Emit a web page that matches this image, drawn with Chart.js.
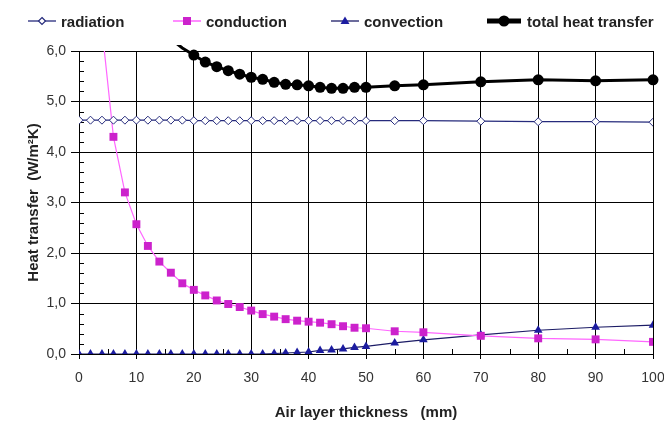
<!DOCTYPE html>
<html>
<head>
<meta charset="utf-8">
<script src="https://cdn.jsdelivr.net/npm/chart.js@4.4.1/dist/chart.umd.min.js"></script>
<style>
html,body{margin:0;padding:0;background:#fff;}
#wrap{position:relative;width:664px;height:424px;overflow:hidden;}
#c{position:absolute;left:0;top:0;}
.lg{position:absolute;top:11px;height:20px;display:flex;align-items:center;font:bold 15px "Liberation Sans",Arial,sans-serif;color:#222;white-space:nowrap;}
.lg svg{margin-right:5px;}
</style>
</head>
<body>
<div id="wrap">
<canvas id="c" width="664" height="424"></canvas>
<div class="lg" style="left:28px"><svg width="28" height="14"><line x1="0" y1="7" x2="28" y2="7" stroke="#262b7c" stroke-width="1.3"/><polygon points="14,3.5 17.5,7 14,10.5 10.5,7" fill="#fff" stroke="#262b7c" stroke-width="1.2"/></svg><span>radiation</span></div>
<div class="lg" style="left:173px"><svg width="28" height="14"><line x1="0" y1="7" x2="28" y2="7" stroke="#ff66ff" stroke-width="1.5"/><rect x="10" y="3" width="8" height="8" fill="#cc22cc"/></svg><span>conduction</span></div>
<div class="lg" style="left:331px"><svg width="28" height="14"><line x1="0" y1="7" x2="28" y2="7" stroke="#1c1c66" stroke-width="1.3"/><polygon points="14,2.5 18.5,10 9.5,10" fill="#1c1ca0"/></svg><span>convection</span></div>
<div class="lg" style="left:487px"><svg width="34" height="14" style="margin-right:6px"><line x1="0" y1="7" x2="34" y2="7" stroke="#000" stroke-width="5"/><circle cx="17" cy="7" r="5.5" fill="#000"/></svg><span>total heat transfer</span></div>
</div>
<script>
// ---- data ----
const thickness = [0,2,4,6,8,10,12,14,16,18,20,22,24,26,28,30,32,34,36,38,40,42,44,46,48,50,55,60,70,80,90,100];
const radiation = [4.63,4.63,4.63,4.63,4.63,4.63,4.63,4.63,4.63,4.63,4.62,4.62,4.62,4.62,4.62,4.62,4.62,4.62,4.62,4.62,4.62,4.62,4.62,4.62,4.62,4.62,4.62,4.62,4.61,4.60,4.60,4.59];
const convection = [0,0,0,0,0,0,0,0,0,0,0,0,0,0,0,0,0,0.01,0.02,0.03,0.04,0.07,0.08,0.10,0.13,0.15,0.22,0.28,0.38,0.47,0.53,0.57];
const conductionX = [4,6,8,10,12,14,16,18,20,22,24,26,28,30,32,34,36,38,40,42,44,46,48,50,55,60,70,80,90,100];
const conduction = [6.45,4.30,3.20,2.57,2.14,1.83,1.61,1.40,1.27,1.16,1.06,0.99,0.93,0.86,0.79,0.74,0.69,0.66,0.64,0.62,0.59,0.55,0.52,0.51,0.45,0.43,0.36,0.31,0.29,0.24];
const totalX = [16,18,20,22,24,26,28,30,32,34,36,38,40,42,44,46,48,50,55,60,70,80,90,100];
const total = [6.24,6.06,5.92,5.78,5.69,5.61,5.54,5.48,5.44,5.38,5.34,5.33,5.31,5.28,5.26,5.26,5.28,5.28,5.31,5.33,5.39,5.43,5.41,5.43];
const xTicks = [0,10,20,30,40,50,60,70,80,90,100];
const yTicks = [0,1,2,3,4,5,6];

const FONT = '"Liberation Sans", Arial, sans-serif';
const pts = (xs, ys) => xs.map((x, i) => ({x, y: ys[i]}));

const minorTicks = {
  id: 'minorTicks',
  beforeDatasetsDraw(chart) {
    const {ctx, chartArea: a, scales: {x, y}} = chart;
    ctx.save();
    ctx.strokeStyle = '#000';
    ctx.lineWidth = 1;
    ctx.beginPath();
    for (let i = 1; i < 30; i++) {
      if (i % 5 === 0) continue;
      const py = Math.round(y.getPixelForValue(i / 5)) + 0.5;
      ctx.moveTo(a.left, py); ctx.lineTo(a.left + 5, py);
    }
    for (let v = 5; v < 100; v += 10) {
      const px = Math.round(x.getPixelForValue(v)) + 0.5;
      ctx.moveTo(px, a.bottom); ctx.lineTo(px, a.bottom - 5);
    }
    ctx.stroke();
    ctx.restore();
  }
};

new Chart(document.getElementById('c'), {
  type: 'line',
  data: {
    datasets: [
      {label: 'radiation', data: pts(thickness, radiation), borderColor: '#262b7c', borderWidth: 1.3,
       pointStyle: 'rectRot', pointRadius: 4, pointBackgroundColor: '#fff', pointBorderColor: '#262b7c', pointBorderWidth: 1},
      {label: 'conduction', data: pts(conductionX, conduction), borderColor: '#ff66ff', borderWidth: 1.2,
       pointStyle: 'rect', pointRadius: 5.6, pointBackgroundColor: '#cc22cc', pointBorderColor: '#cc22cc', pointBorderWidth: 0},
      {label: 'convection', data: pts(thickness, convection), borderColor: '#1c1c66', borderWidth: 1.2,
       pointStyle: 'triangle', pointRadius: 5, pointBackgroundColor: '#1c1ca0', pointBorderColor: '#1c1ca0', pointBorderWidth: 0},
      {label: 'total heat transfer', data: pts(totalX, total), borderColor: '#000', borderWidth: 3,
       pointStyle: 'circle', pointRadius: c => (c.raw && c.raw.y > 6 ? 0 : 5.5), pointBackgroundColor: '#000', pointBorderColor: '#000', pointBorderWidth: 0,
       clip: {left: 0, top: 6, right: 6, bottom: 0}}
    ]
  },
  options: {
    responsive: false,
    animation: false,
    devicePixelRatio: 1,
    layout: {padding: {top: 51, right: 11, left: 0, bottom: 0}},
    elements: {line: {tension: 0}},
    plugins: {legend: {display: false}, tooltip: {enabled: false}},
    scales: {
      x: {
        type: 'linear', min: 0, max: 100,
        afterBuildTicks: s => { s.ticks = xTicks.map(v => ({value: v})); },
        ticks: {color: '#333', font: {family: FONT, size: 14}, padding: 11, maxRotation: 0, autoSkip: false},
        grid: {color: '#000', lineWidth: 1, tickLength: 5},
        border: {color: '#000', width: 1},
        title: {display: true, text: 'Air layer thickness   (mm)', color: '#222',
                font: {family: FONT, size: 15, weight: 'bold'}, padding: {top: 0, bottom: 2}},
        afterFit: s => { s.height = 70; s.paddingLeft = 0; s.paddingRight = 0; }
      },
      y: {
        min: 0, max: 6,
        afterBuildTicks: s => { s.ticks = yTicks.map(v => ({value: v})); },
        ticks: {color: '#333', font: {family: FONT, size: 14}, padding: 5,
                callback: v => v.toFixed(1).replace('.', ',')},
        grid: {color: '#000', lineWidth: 1, tickLength: 8},
        border: {color: '#000', width: 1},
        title: {display: true, text: 'Heat transfer  (W/m²K)', color: '#222',
                font: {family: FONT, size: 15, weight: 'bold'}, padding: {top: 25, bottom: 0}},
        afterFit: s => { s.width = 79; s.paddingTop = 0; s.paddingBottom = 0; }
      }
    }
  },
  plugins: [minorTicks]
});
</script>
</body>
</html>
